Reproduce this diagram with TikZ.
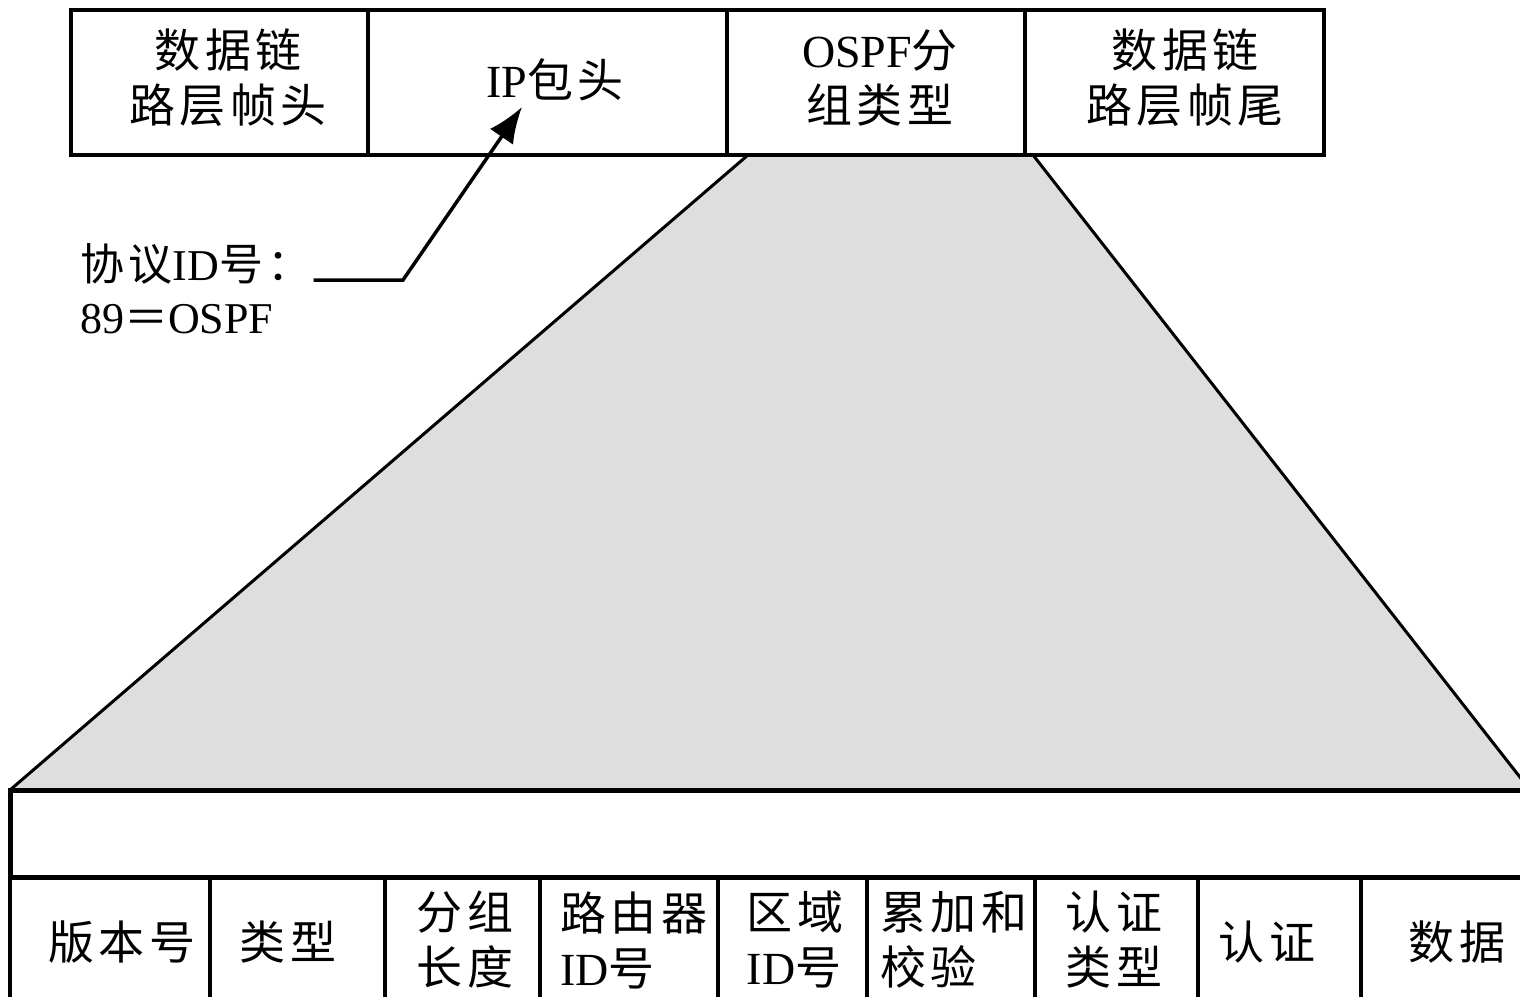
\documentclass[tikz,border=0pt]{standalone}
\usepackage{fontspec}
\setmainfont{Liberation Serif}
\newfontfamily\cjk{Noto Sans CJK SC}[LetterSpace=10]
\usetikzlibrary{arrows.meta}
\newcommand\lat[1]{{\rmfamily #1}}
\definecolor{trapgray}{HTML}{DEDEDE}
\begin{document}
\begin{tikzpicture}[x=1pt,y=-1pt,line join=miter,
  cell/.style={draw,line width=3.5pt,inner sep=0pt,align=center,
    font=\fontsize{46}{55}\selectfont\cjk},
  txt/.style={inner sep=0pt,font=\fontsize{46}{55}\selectfont\cjk},
  note/.style={inner sep=0pt,font=\fontsize{44}{52}\selectfont\cjk},
  arr/.style={line width=3.5pt,-{Latex[length=36pt,width=28pt]}},
  edge/.style={line width=3pt}]
\useasboundingbox (0,0) rectangle (1520,996);
\begin{scope}
\clip (0,0) rectangle (1520,996);
% funnel
\fill[trapgray] (748,155) -- (1033,155) -- (1530,790) -- (10,790) -- cycle;
\draw[edge] (748,155) -- (10,790);
\draw[edge] (1033,155) -- (1530,790);
% top frame
\node[cell,minimum width=297pt,minimum height=145pt] (dlh) at (219.5,82.5) {};
\node[txt,align=center] (tdlh) at (228,78) {数据链\\路层帧头};
\node[cell,minimum width=359pt,minimum height=145pt] (iph) at (547.5,82.5) {};
\node[txt] (tiph) at (555,80) {\lat{IP}包头};
\node[cell,minimum width=298pt,minimum height=145pt] (ospf) at (876,82.5) {};
\node[txt,align=center] (tospf) at (880,78) {\lat{OSPF}分\\组类型};
\node[cell,minimum width=299pt,minimum height=145pt] (dlt) at (1174.5,82.5) {};
\node[txt,align=center] (tdlt) at (1185,78) {数据链\\路层帧尾};
% bottom packet
\node[cell,line width=5pt,minimum width=1540pt,minimum height=87pt] (hdr) at (780,833.5) {};
\node[cell,minimum width=200pt,minimum height=140pt] (ver) at (110,947) {};
\node[txt] (tver) at (122,942) {版本号};
\node[cell,minimum width=175pt,minimum height=140pt] (typ) at (297.5,947) {};
\node[txt] (ttyp) at (288,942) {类型};
\node[cell,minimum width=155pt,minimum height=140pt] (len) at (462.5,947) {};
\node[txt,align=center] (tlen) at (465,940) {分组\\长度};
\node[cell,minimum width=178pt,minimum height=140pt] (rid) at (629,947) {};
\node[txt,align=left] (trid) at (634,940) {路由器\\\lat{ID}号};
\node[cell,minimum width=149pt,minimum height=140pt] (aid) at (792.5,947) {};
\node[txt,align=left] (taid) at (795,940) {区域\\\lat{ID}号};
\node[cell,minimum width=168pt,minimum height=140pt] (chk) at (951,947) {};
\node[txt,align=left] (tchk) at (954,940) {累加和\\校验};
\node[cell,minimum width=163pt,minimum height=140pt] (aut) at (1116.5,947) {};
\node[txt,align=center] (taut) at (1114,940) {认证\\类型};
\node[cell,minimum width=163pt,minimum height=140pt] (au) at (1279.5,947) {};
\node[txt] (tau) at (1267,942) {认证};
\node[cell,minimum width=169pt,minimum height=140pt] (dat) at (1445.5,947) {};
\node[txt] (tdat) at (1457,942) {数据};
\end{scope}
% protocol note
\node[note,anchor=base west] (p1) at (80,280) {协议\lat{ID}号：};
\node[note,anchor=base west] (p2) at (80,333) {\lat{89}＝\lat{OSPF}};
\coordinate (bend) at (403,280);
\coordinate (iptip) at (522,107);
\draw[arr] ([xshift=2pt]p1.base east) -- (bend) -- (iptip);
\end{tikzpicture}
\end{document}
